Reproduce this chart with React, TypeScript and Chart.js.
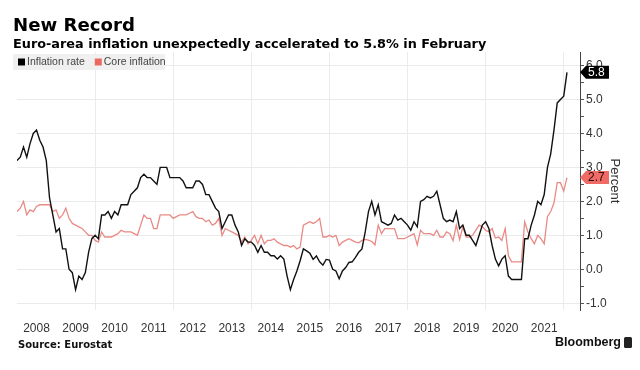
import React, { useEffect, useRef } from "react";
import { Chart, registerables } from "chart.js";

Chart.register(...registerables);

const years = ["2008", "2009", "2010", "2011", "2012", "2013", "2014", "2015", "2016", "2017", "2018", "2019", "2020", "2021"];

// Monthly, Jan 2008 .. Feb 2022
const inflation = [
  3.2, 3.3, 3.6, 3.3, 3.7, 4.0, 4.1, 3.8, 3.6, 3.2, 2.1, 1.6,
  1.1, 1.2, 0.6, 0.6, 0.0, -0.1, -0.6, -0.2, -0.3, -0.1, 0.5, 0.9,
  1.0, 0.9, 1.6, 1.6, 1.7, 1.5, 1.7, 1.6, 1.9, 1.9, 1.9, 2.2,
  2.3, 2.4, 2.7, 2.8, 2.7, 2.7, 2.6, 2.5, 3.0, 3.0, 3.0, 2.7,
  2.7, 2.7, 2.7, 2.6, 2.4, 2.4, 2.4, 2.6, 2.6, 2.5, 2.2, 2.2,
  2.0, 1.8, 1.7, 1.2, 1.4, 1.6, 1.6, 1.3, 1.1, 0.7, 0.9, 0.8,
  0.8, 0.7, 0.5, 0.7, 0.5, 0.5, 0.4, 0.4, 0.3, 0.4, 0.3, -0.2,
  -0.6, -0.3, -0.05, 0.25, 0.6, 0.54, 0.47, 0.29, 0.39, 0.22, 0.12, 0.29,
  0.27, 0.0, -0.05, -0.28, -0.05, 0.05, 0.2, 0.22, 0.35, 0.5, 0.6, 1.1,
  1.7, 2.0, 1.6, 1.9, 1.4, 1.35, 1.3, 1.35, 1.6, 1.45, 1.5, 1.4,
  1.3, 1.15, 1.4, 1.25, 2.0, 2.05, 2.15, 2.1, 2.15, 2.3, 1.9, 1.5,
  1.4, 1.45, 1.4, 1.7, 1.2, 1.3, 1.0, 1.0, 0.85, 0.7, 1.0, 1.3,
  1.4, 1.2, 0.7, 0.3, 0.1, 0.3, 0.4, -0.2, -0.3, -0.3, -0.3, -0.3,
  0.9, 0.9, 1.3, 1.6, 2.0, 1.9, 2.2, 3.0, 3.4, 4.1, 4.9, 5.0,
  5.1, 5.8,
];

const coreInflation = [
  1.7, 1.8, 2.0, 1.6, 1.75, 1.7, 1.85, 1.9, 1.9, 1.9, 1.9, 1.7,
  1.75, 1.5, 1.6, 1.8, 1.5, 1.35, 1.3, 1.25, 1.2, 1.1, 1.0, 1.0,
  0.85, 0.8, 1.1, 0.95, 0.95, 0.95, 1.0, 1.05, 1.15, 1.1, 1.1, 1.1,
  1.05, 1.0, 1.3, 1.6, 1.5, 1.5, 1.2, 1.2, 1.6, 1.6, 1.6, 1.6,
  1.5, 1.55, 1.6, 1.6, 1.6, 1.65, 1.7, 1.55, 1.5, 1.5, 1.4, 1.45,
  1.3, 1.35, 1.5, 1.0, 1.2, 1.15, 1.1, 1.05, 1.0, 0.8, 0.95, 0.75,
  0.85, 1.0, 0.75, 1.0, 0.75, 0.85, 0.85, 0.9, 0.8, 0.75, 0.7, 0.7,
  0.65, 0.7, 0.6, 0.65, 1.3, 1.35, 1.4, 1.35, 1.4, 1.5, 0.95, 0.95,
  1.0, 0.95, 1.0, 0.7, 0.8, 0.85, 0.9, 0.85, 0.8, 0.78, 0.85, 0.88,
  0.86, 0.82, 0.72, 1.3, 1.05, 1.2, 1.2, 1.2, 1.2, 0.9, 0.9, 0.9,
  0.95, 1.0, 1.05, 0.72, 1.15, 1.05, 1.05, 1.05, 1.0, 1.15, 0.95, 0.95,
  1.1, 1.05, 0.84, 1.3, 0.88, 1.25, 0.95, 0.95, 1.0, 1.15, 1.3, 1.25,
  1.15, 1.1, 1.2, 0.92, 0.95, 0.85, 1.2, 0.4, 0.22, 0.22, 0.22, 0.22,
  1.4, 1.1, 0.9, 0.75, 1.0, 0.9, 0.75, 1.55, 1.7, 1.95, 2.55, 2.55,
  2.3, 2.7,
];

const yTickValues = [-1, -0.5, 0, 0.5, 1, 1.5, 2, 2.5, 3, 3.5, 4, 4.5, 5, 5.5, 6];
const gridMonths = [24, 48, 72, 96, 120, 144, 168];
const seriesNames = ["Inflation rate", "Core inflation"];
const seriesColors = ["#111111", "#e98a85"];
const tagColors = ["#000000", "#f06a66"];
const tagTextColors = ["#ffffff", "#2a0a0a"];

const titleText = "New Record";
const subtitleText = "Euro-area inflation unexpectedly accelerated to 5.8% in February";
const sourceText = "Source: Eurostat";
const axisTitle = "Percent";

function fitFont(ctx: CanvasRenderingContext2D, text: string, weight: string, family: string, target: number) {
  ctx.font = `${weight} 20px ${family}`;
  const w = ctx.measureText(text).width;
  const size = (20 * target) / w;
  ctx.font = `${weight} ${size}px ${family}`;
}

const decorPlugin = {
  id: "decor",
  afterDraw(chart: any) {
    const ctx: CanvasRenderingContext2D = chart.ctx;
    const area = chart.chartArea;
    const yScale = chart.scales.y;
    ctx.save();
    // Titles
    ctx.fillStyle = "#000";
    ctx.textBaseline = "alphabetic";
    ctx.textAlign = "left";
    fitFont(ctx, titleText, "bold", "'DejaVu Sans'", 122);
    ctx.fillText(titleText, 13, 31);
    fitFont(ctx, subtitleText, "bold", "'DejaVu Sans'", 474);
    ctx.fillText(subtitleText, 13, 48);

    // Legend
    ctx.fillStyle = "#f0f0f0";
    ctx.fillRect(13, 54, 152, 16);
    ctx.font = "10.5px 'Liberation Sans'";
    ctx.textBaseline = "middle";
    let lx = 18;
    seriesNames.forEach((name, i) => {
      ctx.fillStyle = i === 0 ? "#000" : "#ea6a62";
      ctx.fillRect(lx, 58.5, 7, 7);
      ctx.fillStyle = "#444";
      ctx.fillText(name, lx + 9, 62.5);
      lx += 9 + ctx.measureText(name).width + 10;
    });

    // Axis title
    ctx.save();
    ctx.translate(615, (area.top + area.bottom) / 2);
    ctx.rotate(Math.PI / 2);
    ctx.font = "13px 'Liberation Sans'";
    ctx.fillStyle = "#333";
    ctx.textAlign = "center";
    ctx.textBaseline = "middle";
    ctx.fillText(axisTitle, 0, 0);
    ctx.restore();

    // Last value tags
    chart.data.datasets.forEach((ds: any, i: number) => {
      const last = ds.data[ds.data.length - 1].y;
      const y = yScale.getPixelForValue(last);
      const x = area.right;
      ctx.beginPath();
      ctx.moveTo(x, y);
      ctx.lineTo(x + 6, y - 6.5);
      ctx.lineTo(x + 29, y - 6.5);
      ctx.lineTo(x + 29, y + 6.5);
      ctx.lineTo(x + 6, y + 6.5);
      ctx.closePath();
      ctx.fillStyle = tagColors[i];
      ctx.fill();
      ctx.fillStyle = tagTextColors[i];
      ctx.font = "12px 'Liberation Sans'";
      ctx.textAlign = "left";
      ctx.textBaseline = "middle";
      ctx.fillText(last.toFixed(1), x + 8, y + 0.5);
    });

    // Footer
    ctx.fillStyle = "#111";
    ctx.font = "bold 10px 'DejaVu Sans'";
    ctx.textAlign = "left";
    ctx.textBaseline = "middle";
    ctx.fillText(sourceText, 18, 345);
    ctx.font = "bold 12.5px 'Liberation Sans'";
    ctx.textAlign = "right";
    ctx.fillText("Bloomberg", 621, 343);
    ctx.fillStyle = "#222";
    ctx.beginPath();
    ctx.roundRect(624, 337, 8, 11, 1.5);
    ctx.fill();
    ctx.restore();
  },
};

export default function App() {
  const ref = useRef<HTMLCanvasElement | null>(null);
  useEffect(() => {
    if (!ref.current) return;
    const chart = new Chart(ref.current, {
      type: "line",
      data: {
        datasets: [
          {
            label: seriesNames[0],
            data: inflation.map((v, i) => ({ x: i, y: v })),
            borderColor: seriesColors[0],
            borderWidth: 1.4,
            pointRadius: 0,
            tension: 0,
            xAxisID: "x",
          },
          {
            label: seriesNames[1],
            data: coreInflation.map((v, i) => ({ x: i, y: v })),
            borderColor: seriesColors[1],
            borderWidth: 1.3,
            pointRadius: 0,
            tension: 0,
            xAxisID: "x",
          },
        ],
      },
      options: {
        animation: false,
        responsive: false,
        maintainAspectRatio: false,
        devicePixelRatio: 1,
        layout: { padding: { left: 17, top: 52, right: 0, bottom: 0 } },
        plugins: { legend: { display: false }, tooltip: { enabled: false }, title: { display: false } },
        scales: {
          x: {
            type: "linear",
            position: "bottom",
            min: 0,
            max: 173,
            grid: { display: false },
            border: { display: false },
            afterBuildTicks: (s: any) => {
              s.ticks = years.map((_, i) => ({ value: 6 + 12 * i }));
            },
            ticks: {
              autoSkip: false,
              maxRotation: 0,
              padding: 3,
              color: "#333",
              font: { family: "'Liberation Sans'", size: 12 },
              callback: (_v: any, i: number) => years[i],
            },
            afterFit: (s: any) => {
              s.height = 60;
            },
          },
          x2: {
            type: "linear",
            position: "bottom",
            min: 0,
            max: 173,
            afterBuildTicks: (s: any) => {
              s.ticks = gridMonths.map((v) => ({ value: v }));
            },
            grid: { color: "#ebebeb", drawTicks: false, lineWidth: 1 },
            border: { display: false },
            ticks: { display: false },
            afterFit: (s: any) => {
              s.height = 0;
            },
          },
          y: {
            type: "linear",
            position: "right",
            min: -1.2,
            max: 6.4,
            afterBuildTicks: (s: any) => {
              s.ticks = yTickValues.map((v) => ({ value: v }));
            },
            grid: {
              color: (c: any) => (c.tick && Number.isInteger(c.tick.value) ? "#ebebeb" : "rgba(0,0,0,0)"),
              tickColor: "#555",
              tickLength: 4,
              drawTicks: true,
            },
            border: { display: true, color: "#444", width: 1 },
            ticks: {
              autoSkip: false,
              padding: 2,
              color: "#333",
              font: { family: "'Liberation Sans'", size: 12 },
              callback: (v: any) => (Number.isInteger(v) ? Number(v).toFixed(1) : ""),
            },
            afterFit: (s: any) => {
              s.width = 60;
            },
          },
        },
      },
      plugins: [decorPlugin],
    });
    return () => chart.destroy();
  }, []);
  return (
    <div style={{ position: "fixed", left: 0, top: 0, width: 640, height: 370, background: "#fff" }}>
      <canvas ref={ref} width={640} height={370} style={{ width: 640, height: 370, display: "block" }} />
    </div>
  );
}
